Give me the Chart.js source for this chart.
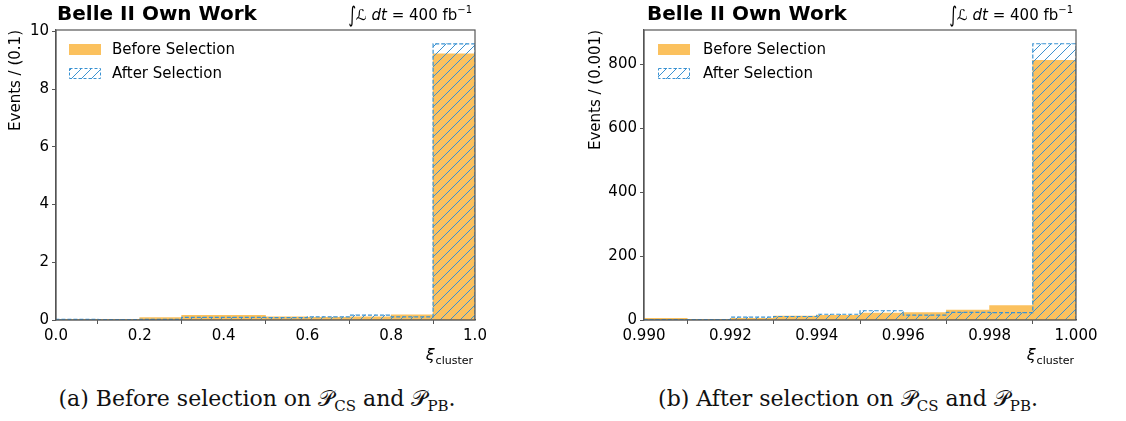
<!DOCTYPE html>
<html>
<head>
<meta charset="utf-8">
<script src="https://cdn.jsdelivr.net/npm/chart.js@4.4.0/dist/chart.umd.min.js"></script>
<style>
  body{margin:0;background:#fff;width:1126px;height:421px;position:relative;overflow:hidden;}
  canvas{position:absolute;top:0;}
  .cap{position:absolute;top:388px;line-height:1;font-family:"DejaVu Serif",serif;font-size:22px;color:#111;white-space:nowrap;transform:translateX(-50%);}
  .cap sub{font-size:15px;vertical-align:-5px;line-height:0;}
</style>
</head>
<body>
<canvas id="cA" width="565" height="380" style="left:0;width:565px;height:380px"></canvas>
<canvas id="cB" width="551" height="380" style="left:575px;width:551px;height:380px"></canvas>
<div class="cap" style="left:257px">(a) Before selection on 𝒫<sub>CS</sub> and 𝒫<sub>PB</sub>.</div>
<div class="cap" style="left:848px">(b) After selection on 𝒫<sub>CS</sub> and 𝒫<sub>PB</sub>.</div>
<script>
// datos
const binsA = [0.0,0.1,0.2,0.3,0.4,0.5,0.6,0.7,0.8,0.9,1.0];
const antesA = [0.01,0.01,0.08,0.16,0.16,0.11,0.09,0.11,0.18,9.22];
const despuesA = [0.02,0.01,0.02,0.09,0.09,0.08,0.11,0.17,0.11,9.57];
const xTicksA = [0.0,0.2,0.4,0.6,0.8,1.0];
const yTicksA = [0,2,4,6,8,10];

const binsB = [0.990,0.991,0.992,0.993,0.994,0.995,0.996,0.997,0.998,0.999,1.000];
const antesB = [5,2,5,12,15,22,23,31,45,813];
const despuesB = [1,1,9,11,18,29,15,24,23,865];
const xTicksB = [0.990,0.992,0.994,0.996,0.998,1.000];
const yTicksB = [0,200,400,600,800];

const naranja = 'rgb(251,193,94)';
const azul = 'rgb(58,146,210)';
const fuente = '"DejaVu Sans", sans-serif';

const rayado = () =>{
    let c=document.createElement('canvas');
    c.width=10; c.height=10;
    let g=c.getContext('2d');
    g.strokeStyle=azul;
    g.lineWidth=1;
    g.beginPath();
    g.moveTo(0,10); g.lineTo(10,0);
    g.moveTo(-1,1); g.lineTo(1,-1);
    g.moveTo(9,11); g.lineTo(11,9);
    g.stroke();
    return g.createPattern(c,'repeat');
}

const centros = (bins) => bins.slice(0,-1).map((b,i)=>(b+bins[i+1])/2);

const contorno = (bins,vals) =>{
    let pts=[{x:bins[0],y:0}];
    for(let i=0;i<vals.length;i++){
        pts.push({x:bins[i],y:vals[i]});
    }
    pts.push({x:bins[bins.length-1],y:vals[vals.length-1]});
    pts.push({x:bins[bins.length-1],y:0});
    return pts;
}

const decorado = {
    id:'decorado',
    afterDraw(chart, args, o){
        const ctx=chart.ctx;
        const a=chart.chartArea;
        ctx.save();
        // marco
        ctx.strokeStyle='#555';
        ctx.lineWidth=1.2;
        ctx.strokeRect(a.left,a.top,a.right-a.left,a.bottom-a.top);
        // titulo
        ctx.fillStyle='#000';
        ctx.textBaseline='alphabetic';
        ctx.textAlign='left';
        ctx.font='bold 20px '+fuente;
        ctx.fillText('Belle II Own Work',a.left+o.tx,20);
        // luminosidad
        let partes=[
            {t:'\u222B',f:'15px '+fuente,dy:2,sc:1.45},
            {t:'\u2112',f:'italic 15px '+fuente,dy:0},
            {t:' dt',f:'italic 15px '+fuente,dy:0},
            {t:' = 400 fb',f:'15px '+fuente,dy:0},
            {t:'\u22121',f:'10px '+fuente,dy:-7}
        ];
        let total=0;
        for(let p of partes){ ctx.font=p.f; p.w=ctx.measureText(p.t).width; total+=p.w; }
        let x=a.right-3-total;
        for(let p of partes){
            ctx.font=p.f;
            if(p.sc){
                ctx.save();
                ctx.translate(x,20+p.dy);
                ctx.scale(1,p.sc);
                ctx.fillText(p.t,0,0);
                ctx.restore();
            }else{
                ctx.fillText(p.t,x,20+p.dy);
            }
            x+=p.w;
        }
        // etiqueta eje y, arriba
        ctx.save();
        ctx.translate(o.yx,a.top);
        ctx.rotate(-Math.PI/2);
        ctx.font='15px '+fuente;
        ctx.textAlign='right';
        ctx.textBaseline='middle';
        ctx.fillText(o.ejeY,0,0);
        ctx.restore();
        // etiqueta eje x
        ctx.font='italic 16px '+fuente;
        let w1=ctx.measureText('\u03BE').width;
        ctx.font='11px '+fuente;
        let w2=ctx.measureText('cluster').width;
        let x0=a.right-3-w1-w2;
        ctx.font='italic 16px '+fuente;
        ctx.fillText('\u03BE',x0,360);
        ctx.font='11px '+fuente;
        ctx.fillText('cluster',x0+w1+1,364);
        // leyenda
        let lx=a.left+o.lx, tx=a.left+o.ltx;
        ctx.fillStyle=naranja;
        ctx.fillRect(lx,a.top+14,32,11);
        ctx.fillStyle=rayado();
        ctx.fillRect(lx,a.top+38,32,11);
        ctx.setLineDash([3,2]);
        ctx.strokeStyle=azul;
        ctx.lineWidth=1;
        ctx.strokeRect(lx+0.5,a.top+38.5,31,10);
        ctx.setLineDash([]);
        ctx.fillStyle='#000';
        ctx.font='15px '+fuente;
        ctx.textBaseline='middle';
        ctx.fillText('Before Selection',tx,a.top+20);
        ctx.fillText('After Selection',tx,a.top+44);
        ctx.restore();
    }
}

const crearGrafico = (id,bins,antes,despues,xTicks,yTicks,ymax,dec,anchoY,padDer,o) =>{
    const ctx=document.getElementById(id);
    const c=centros(bins);
    const data={
        datasets:[
            {
                type:'line',
                data:contorno(bins,despues),
                borderColor:azul,
                borderWidth:1.2,
                borderDash:[4,2],
                stepped:'before',
                pointRadius:0,
                fill:false,
                order:0
            },
            {
                type:'bar',
                data:c.map((x,i)=>({x:x,y:despues[i]})),
                backgroundColor:rayado(),
                borderWidth:0,
                grouped:false,
                barPercentage:1,
                categoryPercentage:1,
                order:1
            },
            {
                type:'bar',
                data:c.map((x,i)=>({x:x,y:antes[i]})),
                backgroundColor:naranja,
                borderWidth:0,
                grouped:false,
                barPercentage:1,
                categoryPercentage:1,
                order:2
            }
        ]
    };
    const ejeColor='#555';
    const config={
        type:'bar',
        data,
        plugins:[decorado],
        options:{
            responsive:false,
            animation:false,
            layout:{padding:{top:30,right:padDer,left:0,bottom:0}},
            plugins:{
                legend:{display:false},
                tooltip:{enabled:false},
                decorado:o
            },
            scales:{
                x:{
                    type:'linear',
                    offset:false,
                    min:bins[0],
                    max:bins[bins.length-1],
                    afterBuildTicks:(s)=>{ s.ticks=xTicks.map(v=>({value:v})); },
                    afterFit:(s)=>{ s.height=60; },
                    grid:{drawOnChartArea:false,drawTicks:true,tickLength:4,color:ejeColor},
                    border:{color:ejeColor,width:1.2},
                    ticks:{
                        color:'#000',
                        font:{family:fuente,size:15},
                        padding:3,
                        maxRotation:0,
                        callback:(v)=>Number(v).toFixed(dec)
                    }
                },
                y:{
                    min:0,
                    max:ymax,
                    afterBuildTicks:(s)=>{ s.ticks=yTicks.map(v=>({value:v})); },
                    afterFit:(s)=>{ s.width=anchoY; },
                    grid:{drawOnChartArea:false,drawTicks:true,tickLength:4,color:ejeColor},
                    border:{color:ejeColor,width:1.2},
                    ticks:{
                        color:'#000',
                        font:{family:fuente,size:15},
                        padding:3
                    }
                }
            }
        }
    };
    return new Chart(ctx,config);
}

crearGrafico('cA',binsA,antesA,despuesA,xTicksA,yTicksA,10.05,1,56,90,{tx:1,lx:13,ltx:56,yx:16,ejeY:'Events / (0.1)'});
crearGrafico('cB',binsB,antesB,despuesB,xTicksB,yTicksB,908,3,69,50,{tx:3,lx:14,ltx:59,yx:21,ejeY:'Events / (0.001)'});
</script>
</body>
</html>
